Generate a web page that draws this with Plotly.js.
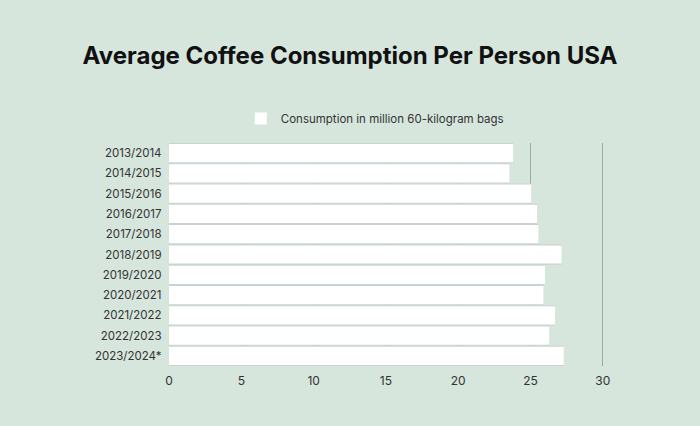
<!DOCTYPE html>
<html>
<head>
<meta charset="utf-8">
<script src="https://cdn.plot.ly/plotly-3.0.1.min.js"></script>
<style>
  html, body { margin: 0; padding: 0; background: #d6e6dd; }
  #chart { width: 700px; height: 426px; }
</style>
</head>
<body>
<div id="chart"></div>
<script>
const seasons = ["2013/2014", "2014/2015", "2015/2016", "2016/2017", "2017/2018", "2018/2019",
  "2019/2020", "2020/2021", "2021/2022", "2022/2023", "2023/2024*"];
const consumption = [23.8, 23.55, 25.05, 25.45, 25.55, 27.15, 26.0, 25.9, 26.7, 26.3, 27.3];
const xTicks = [0, 5, 10, 15, 20, 25, 30];
const seriesName = "Consumption in million 60-kilogram bags";

// grey bar behind each white bar, shows only in the gaps
const shadow = {
  type: "bar",
  orientation: "h",
  x: consumption,
  y: seasons,
  width: 1,
  marker: { color: "#cbd3ce" },
  showlegend: false,
  hoverinfo: "skip"
};

const main = {
  type: "bar",
  orientation: "h",
  x: consumption,
  y: seasons,
  name: seriesName,
  width: 0.9,
  marker: { color: "#ffffff" }
};

const layout = {
  width: 700,
  height: 426,
  paper_bgcolor: "#d6e6dd",
  plot_bgcolor: "#d6e6dd",
  margin: { l: 169, r: 95, t: 143, b: 60 },
  barmode: "overlay",
  font: { family: "Inter, Roboto, sans-serif", size: 12, color: "#333333" },
  title: {
    text: "<b>Average Coffee Consumption Per Person USA</b>",
    font: { family: "Inter, sans-serif", size: 24, color: "#111111" },
    x: 0.5,
    xanchor: "center",
    y: 0.87,
    yanchor: "middle"
  },
  showlegend: true,
  legend: {
    orientation: "h",
    x: 0.472,
    xanchor: "center",
    y: 1.045,
    yanchor: "bottom",
    font: { size: 11.5, color: "#333333" },
    bgcolor: "rgba(0,0,0,0)"
  },
  xaxis: {
    range: [0, 30.15],
    tickvals: xTicks,
    showgrid: true,
    gridcolor: "#9fa9a3",
    gridwidth: 1,
    zeroline: true,
    zerolinecolor: "#9fa9a3",
    showline: false,
    ticks: "outside",
    ticklen: 4,
    tickcolor: "rgba(0,0,0,0)",
    tickfont: { size: 12, color: "#333333" }
  },
  yaxis: {
    type: "category",
    autorange: "reversed",
    showgrid: false,
    zeroline: false,
    ticks: "",
    ticksuffix: "  ",
    tickfont: { size: 11.5, color: "#333333" }
  }
};

Plotly.newPlot("chart", [shadow, main], layout, { displayModeBar: false, staticPlot: true });
</script>
</body>
</html>
